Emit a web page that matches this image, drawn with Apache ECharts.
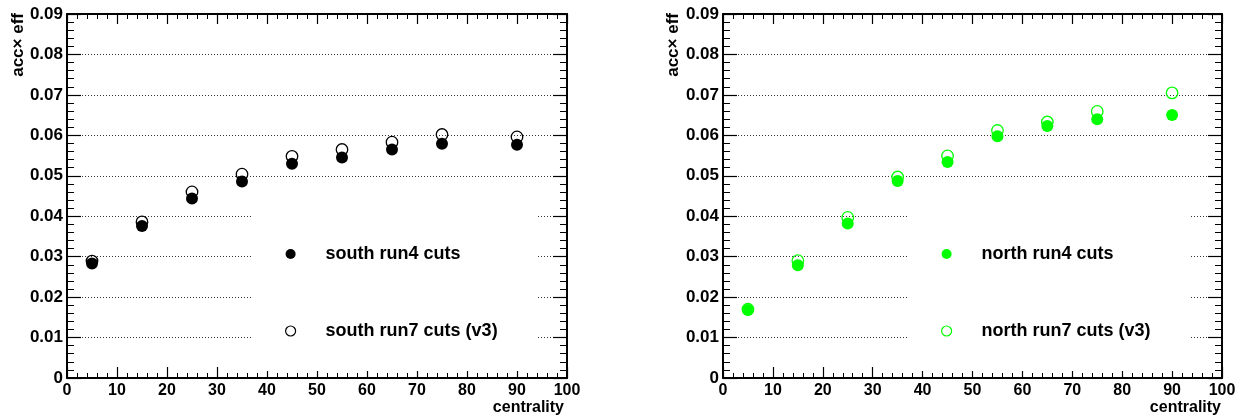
<!DOCTYPE html>
<html>
<head>
<meta charset="utf-8">
<script src="https://cdn.jsdelivr.net/npm/echarts@6/dist/echarts.min.js"></script>
<style>
html,body{margin:0;padding:0;background:#fff;}
#chart{width:1244px;height:418px;}
</style>
</head>
<body>
<div id="chart"></div>
<script>
// ---- data ----
const centrality = [5, 15, 25, 35, 45, 55, 65, 75, 90];
const southRun4 = [0.0283, 0.0376, 0.0444, 0.0486, 0.0530, 0.0545, 0.0565, 0.0579, 0.0577];
const southRun7 = [0.0289, 0.0386, 0.0460, 0.0504, 0.0548, 0.0565, 0.0583, 0.0602, 0.0596];
const northRun4 = [0.0168, 0.0279, 0.0382, 0.0487, 0.0534, 0.0598, 0.0623, 0.0640, 0.0650];
const northRun7 = [0.0170, 0.0290, 0.0397, 0.0497, 0.0549, 0.0612, 0.0633, 0.0659, 0.0705];
const seriesNames = {
  s4: 'south run4 cuts', s7: 'south run7 cuts (v3)',
  n4: 'north run4 cuts', n7: 'north run7 cuts (v3)'
};
const xRange = { min: 0, max: 100, interval: 10 };
const yRange = { min: 0, max: 0.09, interval: 0.01 };
const yTitle = 'acc\u00d7 eff';
const xTitle = 'centrality';

// ---- styling ----
const FONT = '"Liberation Sans", Arial, Helvetica, sans-serif';
const GREEN = '#00ff00';
const pairs = (ys) => centrality.map((c, i) => [c, ys[i]]);

function xAxes(grid) {
  return [
    { type: 'value', gridIndex: grid, position: 'bottom', min: xRange.min, max: xRange.max, interval: xRange.interval,
      axisLine: { show: true, onZero: false, lineStyle: { color: '#000', width: 2 } },
      axisTick: { show: true, inside: true, length: 11, lineStyle: { color: '#000', width: 1.2 } },
      minorTick: { show: true, splitNumber: 5, length: 5, lineStyle: { color: '#000', width: 1 } },
      axisLabel: { show: true, margin: 5, color: '#000', fontFamily: FONT, fontWeight: 'bold', fontSize: 16 },
      splitLine: { show: false } },
    { type: 'value', gridIndex: grid, position: 'top', min: xRange.min, max: xRange.max, interval: xRange.interval,
      axisLine: { show: true, onZero: false, lineStyle: { color: '#000', width: 2 } },
      axisTick: { show: true, inside: true, length: 10, lineStyle: { color: '#000', width: 1.2 } },
      minorTick: { show: true, splitNumber: 5, length: 5, lineStyle: { color: '#000', width: 1 } },
      axisLabel: { show: false }, splitLine: { show: false } }
  ];
}
function yAxes(grid) {
  return [
    { type: 'value', gridIndex: grid, position: 'left', min: yRange.min, max: yRange.max, interval: yRange.interval,
      axisLine: { show: true, onZero: false, lineStyle: { color: '#000', width: 2 } },
      axisTick: { show: true, inside: true, length: 14, lineStyle: { color: '#000', width: 1.2 } },
      minorTick: { show: true, splitNumber: 5, length: 7, lineStyle: { color: '#000', width: 1 } },
      axisLabel: { show: true, margin: 4, color: '#000', fontFamily: FONT, fontWeight: 'bold', fontSize: 17,
        formatter: v => (v === 0 ? '0' : v.toFixed(2)) },
      splitLine: { show: true, lineStyle: { color: '#333', width: 1, type: [1, 2] } } },
    { type: 'value', gridIndex: grid, position: 'right', min: yRange.min, max: yRange.max, interval: yRange.interval,
      axisLine: { show: true, onZero: false, lineStyle: { color: '#000', width: 2 } },
      axisTick: { show: true, inside: true, length: 14, lineStyle: { color: '#000', width: 1.2 } },
      minorTick: { show: true, splitNumber: 5, length: 7, lineStyle: { color: '#000', width: 1 } },
      axisLabel: { show: false }, splitLine: { show: false } }
  ];
}
function filled(name, data, color, xi, yi) {
  return { type: 'scatter', name, data: pairs(data), xAxisIndex: xi, yAxisIndex: yi,
    symbol: 'circle', symbolSize: 12, z: 3,
    itemStyle: { color: color, borderWidth: 0, opacity: 1 } };
}
function hollow(name, data, color, xi, yi) {
  return { type: 'scatter', name, data: pairs(data), xAxisIndex: xi, yAxisIndex: yi,
    symbol: 'circle', symbolSize: 11.5, z: 2,
    itemStyle: { color: 'rgba(255,255,255,0)', borderColor: color, borderWidth: 1.3, opacity: 1 } };
}
function legend(left, names, color) {
  return {
    orient: 'vertical', left: left, top: 196, selectedMode: false,
    backgroundColor: '#fff', borderWidth: 0,
    padding: [48, 40, 30, 32],
    itemWidth: 10, itemHeight: 10, itemGap: 57,
    textStyle: { color: '#000', fontFamily: FONT, fontWeight: 'bold', fontSize: 18, lineHeight: 20, padding: [0, 0, 0, 25] },
    data: [
      { name: names[0], icon: 'circle', itemStyle: { color: color, borderWidth: 0, opacity: 1 } },
      { name: names[1], icon: 'circle', itemStyle: { color: 'rgba(255,255,255,0)', borderColor: color, borderWidth: 1.2, opacity: 1 } }
    ]
  };
}

const chart = echarts.init(document.getElementById('chart'), null, { renderer: 'canvas' });
chart.setOption({
  animation: false,
  backgroundColor: '#fff',
  grid: [
    { left: 67, top: 14, width: 500, height: 364 },
    { left: 723, top: 14, width: 499, height: 364 }
  ],
  xAxis: [...xAxes(0), ...xAxes(1)],
  yAxis: [...yAxes(0), ...yAxes(1)],
  legend: [
    legend(253, [seriesNames.s4, seriesNames.s7], '#000'),
    legend(909, [seriesNames.n4, seriesNames.n7], GREEN)
  ],
  series: [
    hollow(seriesNames.s7, southRun7, '#000', 0, 0),
    filled(seriesNames.s4, southRun4, '#000', 0, 0),
    hollow(seriesNames.n7, northRun7, GREEN, 2, 2),
    filled(seriesNames.n4, northRun4, GREEN, 2, 2)
  ],
  graphic: [
    { type: 'text', x: 18, y: 13, rotation: Math.PI / 2,
      style: { text: yTitle, fill: '#000', font: 'bold 17px ' + FONT, align: 'right', verticalAlign: 'middle' } },
    { type: 'text', x: 673, y: 13, rotation: Math.PI / 2,
      style: { text: yTitle, fill: '#000', font: 'bold 17px ' + FONT, align: 'right', verticalAlign: 'middle' } },
    { type: 'text', x: 564, y: 408,
      style: { text: xTitle, fill: '#000', font: 'bold 16px ' + FONT, align: 'right', verticalAlign: 'middle' } },
    { type: 'text', x: 1221, y: 408,
      style: { text: xTitle, fill: '#000', font: 'bold 16px ' + FONT, align: 'right', verticalAlign: 'middle' } }
  ]
});
</script>
</body>
</html>
